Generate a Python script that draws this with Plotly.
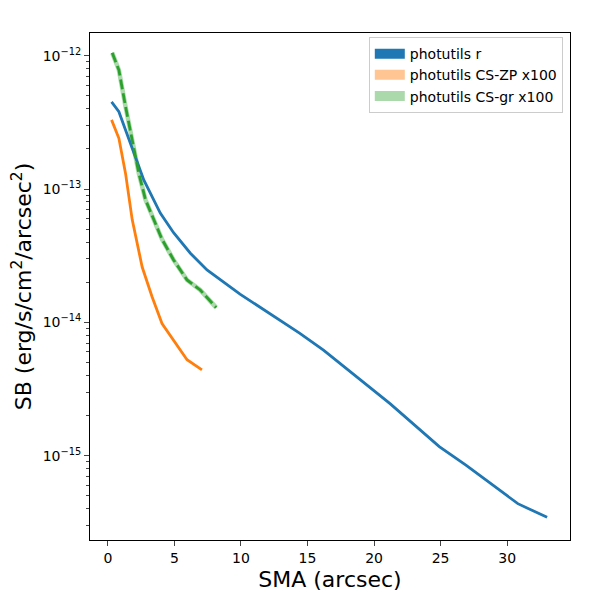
import plotly.graph_objects as go

# Data
sma_r = [0.28, 0.83, 1.33, 1.95, 2.7, 3.94, 4.94, 6.2, 7.45, 9.93, 14.4, 16.2, 21.2, 24.9, 26.9, 30.8, 33.0]
sb_r = [4.5e-13, 3.8e-13, 2.77e-13, 1.86e-13, 1.17e-13, 6.6e-14, 4.7e-14, 3.3e-14, 2.47e-14, 1.63e-14,
        8.3e-15, 6.2e-15, 2.46e-15, 1.17e-15, 8.5e-16, 4.37e-16, 3.45e-16]

sma_zp = [0.28, 0.83, 1.33, 1.83, 2.58, 3.33, 4.07, 4.94, 5.95, 7.07]
sb_zp = [3.3e-13, 2.4e-13, 1.31e-13, 5.9e-14, 2.6e-14, 1.55e-14, 9.8e-15, 7.4e-15, 5.25e-15, 4.4e-15]

sma_gr = [0.33, 0.83, 1.33, 1.83, 2.33, 2.83, 3.45, 4.07, 4.94, 5.95, 6.94, 8.14]
sb_gr = [1.05e-12, 7.8e-13, 4.15e-13, 2.33e-13, 1.31e-13, 8.3e-14, 5.9e-14, 4.2e-14, 2.94e-14, 2.08e-14,
         1.75e-14, 1.29e-14]

labels = ["photutils r", "photutils CS-ZP x100", "photutils CS-gr x100"]
patch_colors = ["#1f77b4", "rgba(255,127,14,0.45)", "rgba(44,160,44,0.4)"]

x_ticks = [0, 5, 10, 15, 20, 25, 30]
y_ticks = [1e-15, 1e-14, 1e-13, 1e-12]
y_ticktext = ["10<sup>\u221215</sup>", "10<sup>\u221214</sup>", "10<sup>\u221213</sup>", "10<sup>\u221212</sup>"]
y_minor = [m * 10.0 ** e for e in (-16, -15, -14, -13, -12) for m in range(2, 10)]

fig = go.Figure()

# light band under green dashed
fig.add_trace(go.Scatter(x=sma_gr, y=sb_gr, mode="lines",
                         line=dict(color="rgba(44,160,44,0.4)", width=4.5), showlegend=False))
fig.add_trace(go.Scatter(x=sma_r, y=sb_r, mode="lines",
                         line=dict(color="#1f77b4", width=2.8), showlegend=False))
fig.add_trace(go.Scatter(x=sma_zp, y=sb_zp, mode="lines",
                         line=dict(color="#ff7f0e", width=2.8), showlegend=False))
fig.add_trace(go.Scatter(x=sma_gr, y=sb_gr, mode="lines",
                         line=dict(color="#2ca02c", width=2.8, dash="10px,4px"), showlegend=False))

for lab, col in zip(labels, patch_colors):
    fig.add_trace(go.Scatter(x=[None], y=[None], mode="lines", name=lab,
                             line=dict(color=col, width=10)))

font = "DejaVu Sans, sans-serif"
# the page body has an 8px margin: the figure is 592 px so it fits the 600 px window
fig.update_layout(
    width=592, height=592,
    margin=dict(l=82, r=30, t=25, b=60),
    paper_bgcolor="white", plot_bgcolor="white",
    font=dict(family=font, size=14, color="black"),
    legend=dict(x=0.985, y=0.992, xanchor="right", yanchor="top",
                bgcolor="rgba(255,255,255,0.8)", bordercolor="#cccccc", borderwidth=1,
                font=dict(size=14), itemwidth=30, tracegroupgap=0),
    xaxis=dict(range=[-1.34, 34.72], tickvals=x_ticks, ticks="outside", ticklen=5, tickwidth=1.1,
               showline=True, linecolor="black", linewidth=1.1, mirror=True, showgrid=False,
               zeroline=False, automargin=False,
               title=dict(text="SMA (arcsec)", font=dict(size=22), standoff=6)),
    yaxis=dict(type="log", range=[-15.632, -11.83], tickmode="array", tickvals=y_ticks, ticktext=y_ticktext,
               ticks="outside", ticklen=5, tickwidth=1.1,
               minor=dict(tickmode="array", tickvals=y_minor, ticks="outside", ticklen=2.8,
                          tickwidth=0.8, showgrid=False),
               showline=True, linecolor="black", linewidth=1.1, mirror=True, showgrid=False,
               zeroline=False, automargin=False,
               title=dict(text="SB (erg/s/cm<sup>2</sup>/arcsec<sup>2</sup>)", font=dict(size=22), standoff=10)),
)

fig.write_html("out.html")
